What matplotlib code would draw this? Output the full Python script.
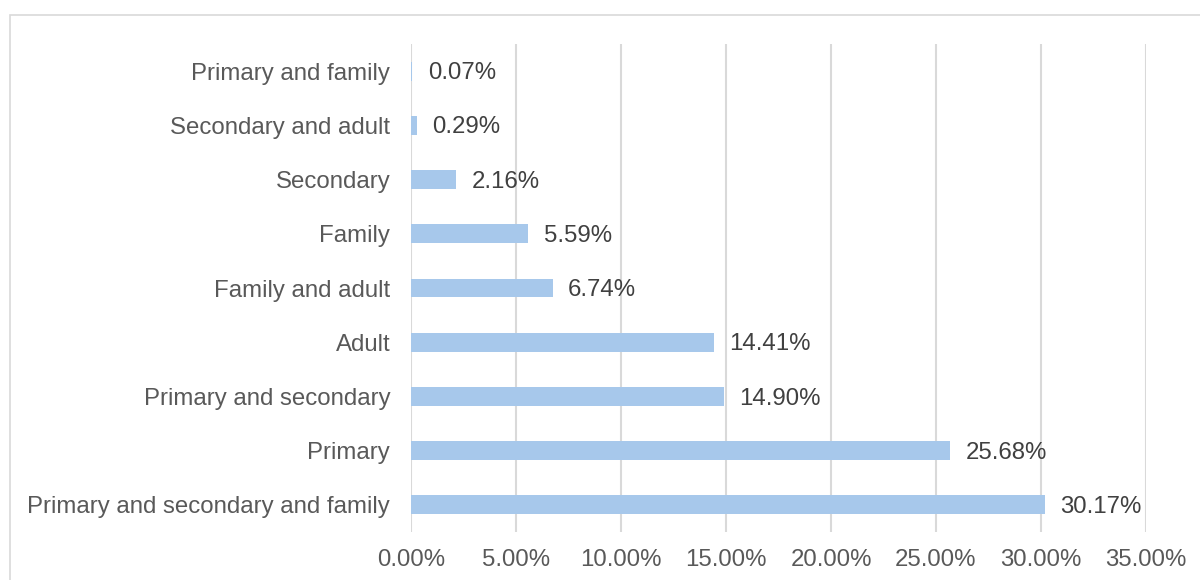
import matplotlib.pyplot as plt
from matplotlib.patches import Rectangle

categories = ['Primary and secondary and family', 'Primary', 'Primary and secondary',
              'Adult', 'Family and adult', 'Family', 'Secondary',
              'Secondary and adult', 'Primary and family']
shares = [30.17, 25.68, 14.90, 14.41, 6.74, 5.59, 2.16, 0.29, 0.07]
ticks = [0, 5, 10, 15, 20, 25, 30, 35]

plt.rcParams['font.family'] = ['Liberation Sans', 'DejaVu Sans']

fig = plt.figure(figsize=(12, 5.8), dpi=100)
ax = fig.add_axes([411 / 1200, 1 - 532 / 580, 735 / 1200, 488 / 580])

# chart frame, cut off at the right and bottom edges
fig.patches.append(Rectangle((10 / 1200, -0.1), 1.2, 1.1 - 15 / 580,
                             transform=fig.transFigure, fill=False,
                             edgecolor='#d9d9d9', linewidth=1.2))

ypos = range(len(categories))
ax.barh(ypos, shares, height=0.35, color='#a7c8eb', zorder=3)

for y, v in zip(ypos, shares):
    ax.annotate(f'{v:.2f}%', (v, y), xytext=(11, -1.5), textcoords='offset points',
                va='center', ha='left', fontsize=17.25, color='#404040')

ax.set_xlim(0, 35)
ax.set_ylim(-0.5, len(categories) - 0.5)
ax.set_xticks(ticks)
ax.set_xticklabels([f'{t:.2f}%' for t in ticks])
ax.set_yticks(list(ypos))
ax.set_yticklabels(categories)

ax.grid(axis='x', color='#d9d9d9', linewidth=1.5, zorder=0)
for s in ax.spines.values():
    s.set_visible(False)
ax.tick_params(length=0, labelsize=17.25, colors='#595959')
ax.tick_params(axis='x', pad=12)
ax.tick_params(axis='y', pad=15)

fig.savefig('out.png', dpi=100)
